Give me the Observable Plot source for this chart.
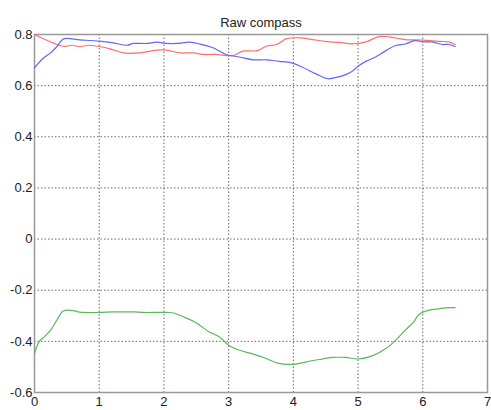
<!DOCTYPE html>
<html>
<head>
<meta charset="utf-8">
<script src="https://cdn.jsdelivr.net/npm/d3@7"></script>
<script src="https://cdn.jsdelivr.net/npm/@observablehq/plot@0.6"></script>
<style>
body { margin: 0; background: #fff; }
svg { font-family: "Liberation Sans", Arial, sans-serif; }
</style>
</head>
<body>
<div id="chart"></div>
<script>
const title = "Raw compass";
const xTicks = [0, 1, 2, 3, 4, 5, 6, 7];
const yTicks = [-0.6, -0.4, -0.2, 0, 0.2, 0.4, 0.6, 0.8];

const redX = [0, 0.45, 0.58, 0.7, 0.83, 1.0, 1.17, 1.37, 1.63, 1.89, 2.04, 2.25, 2.45, 2.6, 2.8, 3.07, 3.22, 3.45, 3.58, 3.74, 3.9, 4.1, 4.3, 4.5, 4.77, 4.92, 5.12, 5.32, 5.5, 5.73, 6.0, 6.25, 6.4, 6.5];
const redY = [0.8, 0.754, 0.758, 0.752, 0.758, 0.753, 0.744, 0.728, 0.728, 0.739, 0.739, 0.728, 0.728, 0.722, 0.722, 0.718, 0.735, 0.737, 0.754, 0.761, 0.784, 0.787, 0.78, 0.773, 0.767, 0.763, 0.771, 0.792, 0.79, 0.78, 0.778, 0.773, 0.771, 0.761];

const blueX = [0, 0.14, 0.25, 0.35, 0.45, 0.7, 1.0, 1.22, 1.43, 1.53, 1.73, 1.89, 2.04, 2.2, 2.4, 2.55, 2.76, 2.96, 3.17, 3.38, 3.58, 3.78, 3.96, 4.14, 4.35, 4.53, 4.66, 4.81, 4.91, 5.0, 5.12, 5.27, 5.43, 5.58, 5.73, 5.88, 6.0, 6.14, 6.3, 6.4, 6.5];
const blueY = [0.67, 0.708, 0.728, 0.754, 0.783, 0.779, 0.774, 0.767, 0.758, 0.765, 0.765, 0.77, 0.765, 0.765, 0.77, 0.763, 0.748, 0.722, 0.712, 0.701, 0.701, 0.695, 0.69, 0.672, 0.646, 0.627, 0.632, 0.643, 0.656, 0.676, 0.695, 0.712, 0.737, 0.757, 0.763, 0.776, 0.771, 0.771, 0.761, 0.761, 0.753];

const greenX = [0, 0.07, 0.14, 0.25, 0.35, 0.45, 0.6, 0.7, 1.0, 1.22, 1.53, 1.68, 2.04, 2.15, 2.3, 2.5, 2.7, 2.86, 3.0, 3.17, 3.38, 3.58, 3.74, 4.0, 4.2, 4.4, 4.6, 4.81, 5.0, 5.22, 5.43, 5.58, 5.73, 5.86, 5.94, 6.1, 6.25, 6.35, 6.5];
const greenY = [-0.448, -0.402, -0.385, -0.356, -0.315, -0.28, -0.28, -0.286, -0.287, -0.285, -0.285, -0.287, -0.287, -0.289, -0.304, -0.328, -0.363, -0.383, -0.415, -0.435, -0.45, -0.467, -0.484, -0.49, -0.48, -0.471, -0.463, -0.463, -0.469, -0.457, -0.428, -0.396, -0.356, -0.324, -0.295, -0.278, -0.273, -0.269, -0.268];

const toPts = (xs, ys) => xs.map((x, i) => ({x, y: ys[i]}));
const red = toPts(redX, redY);
const blue = toPts(blueX, blueY);
const green = toPts(greenX, greenY);

const chart = Plot.plot({
  width: 491,
  height: 410,
  marginLeft: 34,
  marginRight: 4,
  marginTop: 34,
  marginBottom: 18,
  style: {fontSize: "13px", fontFamily: "'Liberation Sans', Arial, sans-serif", color: "#222", background: "#fff"},
  x: {domain: [0, 7], label: null},
  y: {domain: [-0.6, 0.8], label: null},
  marks: [
    Plot.gridX(xTicks, {stroke: "#444", strokeOpacity: 0.8, strokeDasharray: "1.5,2"}),
    Plot.gridY(yTicks, {stroke: "#444", strokeOpacity: 0.8, strokeDasharray: "1.5,2"}),
    Plot.frame({stroke: "#999", strokeWidth: 1.5}),
    Plot.axisX(xTicks, {tickSize: 0, tickPadding: 4, tickFormat: d => String(d), label: null, fontSize: 13}),
    Plot.axisY(yTicks, {tickSize: 0, tickPadding: 2, tickFormat: d => String(+d.toFixed(1)), label: null, fontSize: 13}),
    Plot.line(red, {x: "x", y: "y", stroke: "#ff6e6e", strokeWidth: 1.2, curve: "catmull-rom"}),
    Plot.line(blue, {x: "x", y: "y", stroke: "#6464ff", strokeWidth: 1.2, curve: "catmull-rom"}),
    Plot.line(green, {x: "x", y: "y", stroke: "#5cb85c", strokeWidth: 1.2, curve: "catmull-rom"}),
    Plot.text([title], {frameAnchor: "top", dy: -17, text: d => d, fontSize: 13, fill: "#222"})
  ]
});
document.getElementById("chart").appendChild(chart);
</script>
</body>
</html>
